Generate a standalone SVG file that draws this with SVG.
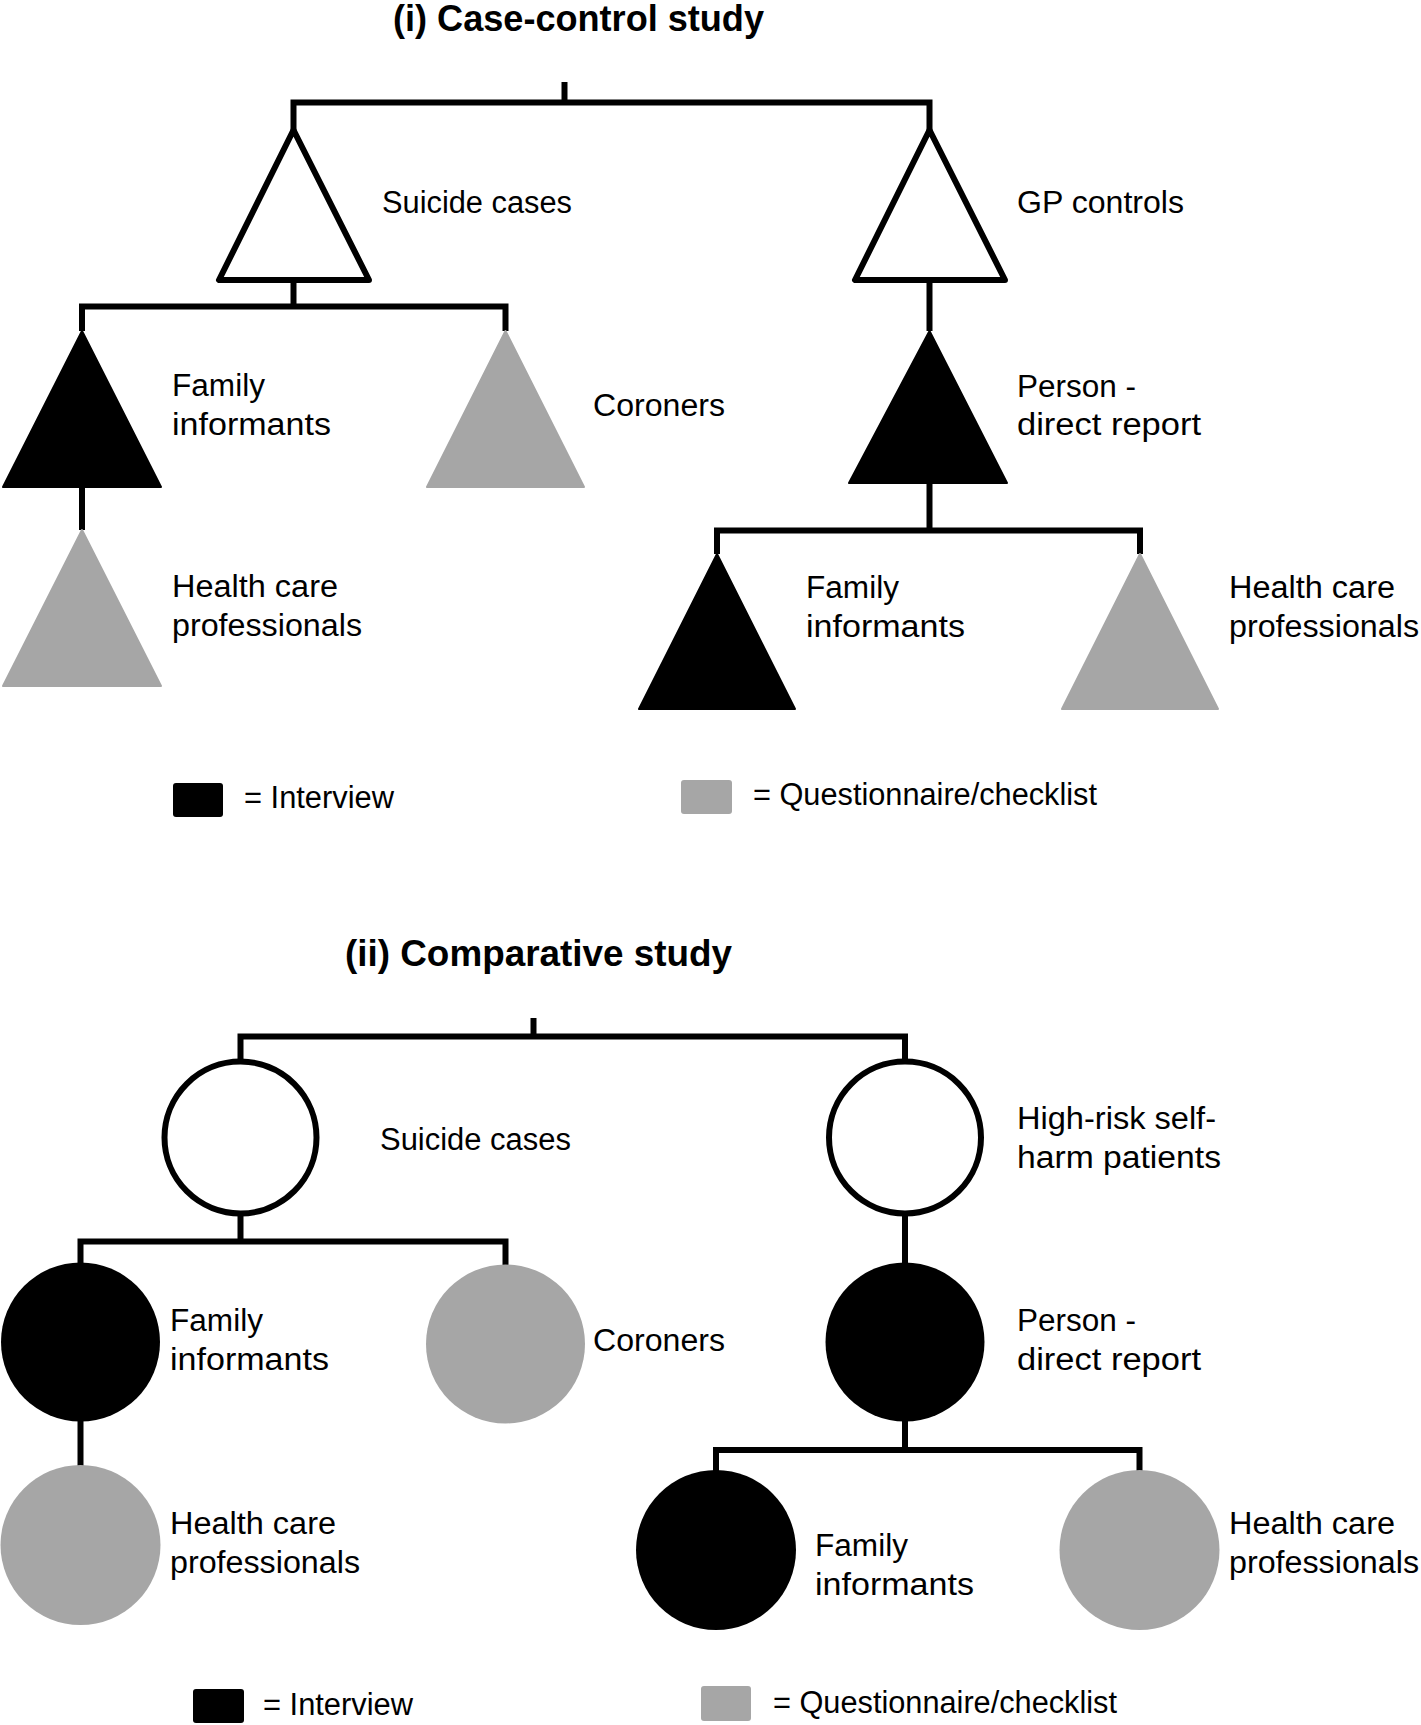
<svg xmlns="http://www.w3.org/2000/svg" width="1421" height="1725" viewBox="0 0 1421 1725">
<style>
  .lbl { font-family: "Liberation Sans", Arial, sans-serif; font-size: 31px; fill: #000; }
  .ttl { font-family: "Liberation Sans", Arial, sans-serif; font-size: 36px; font-weight: bold; fill: #000; }
  .conn { fill: none; stroke: #000; stroke-width: 6; stroke-linejoin: miter; stroke-linecap: butt; }
  .open { fill: #fff; stroke: #000; stroke-width: 6; stroke-linejoin: round; }
  .black { fill: #000; stroke: #000; stroke-width: 2; stroke-linejoin: round; }
  .grey { fill: #a6a6a6; stroke: #a6a6a6; stroke-width: 2; stroke-linejoin: round; }
</style>
<rect width="1421" height="1725" fill="#fff"/>

<!-- ===== (i) Case-control study ===== -->
<text class="ttl" x="393" y="31" textLength="371" lengthAdjust="spacingAndGlyphs">(i) Case-control study</text>

<g id="connectors-i">
  <path class="conn" d="M564.5 82 V102.5"/>
  <path class="conn" d="M293.5 131 V102.5 H929.5 V131"/>
  <path class="conn" d="M293.5 280 V306.5"/>
  <path class="conn" d="M82 331 V306.5 H505.5 V331"/>
  <path class="conn" d="M82 488 V530"/>
  <path class="conn" d="M929.5 280 V331"/>
  <path class="conn" d="M929.5 484 V530.5"/>
  <path class="conn" d="M717 554 V530.5 H1140 V554"/>
</g>

<g id="i-suicide-cases">
  <polygon class="open" points="293.5,130 219,280 369,280"/>
  <text class="lbl" x="382" y="213" textLength="190" lengthAdjust="spacingAndGlyphs">Suicide cases</text>
</g>
<g id="i-gp-controls">
  <polygon class="open" points="929.5,130 855,280 1005,280"/>
  <text class="lbl" x="1017" y="213" textLength="167" lengthAdjust="spacingAndGlyphs">GP controls</text>
</g>
<g id="i-family-informants-left">
  <polygon class="black" points="82,331 3,487 161,487"/>
  <text class="lbl" x="172" y="396" textLength="93" lengthAdjust="spacingAndGlyphs">Family</text>
  <text class="lbl" x="172" y="435" textLength="159" lengthAdjust="spacingAndGlyphs">informants</text>
</g>
<g id="i-coroners">
  <polygon class="grey" points="505.5,331 427,487 584,487"/>
  <text class="lbl" x="593" y="416" textLength="132" lengthAdjust="spacingAndGlyphs">Coroners</text>
</g>
<g id="i-health-care-left">
  <polygon class="grey" points="82,530 3,686 161,686"/>
  <text class="lbl" x="172" y="597" textLength="166" lengthAdjust="spacingAndGlyphs">Health care</text>
  <text class="lbl" x="172" y="636" textLength="190" lengthAdjust="spacingAndGlyphs">professionals</text>
</g>
<g id="i-person-direct-report">
  <polygon class="black" points="929.5,331 849,483 1007,483"/>
  <text class="lbl" x="1017" y="397" textLength="119" lengthAdjust="spacingAndGlyphs">Person -</text>
  <text class="lbl" x="1017" y="435" textLength="184" lengthAdjust="spacingAndGlyphs">direct report</text>
</g>
<g id="i-family-informants-right">
  <polygon class="black" points="717,554 639,709 795,709"/>
  <text class="lbl" x="806" y="598" textLength="93" lengthAdjust="spacingAndGlyphs">Family</text>
  <text class="lbl" x="806" y="637" textLength="159" lengthAdjust="spacingAndGlyphs">informants</text>
</g>
<g id="i-health-care-right">
  <polygon class="grey" points="1140,554 1062,709 1218,709"/>
  <text class="lbl" x="1229" y="598" textLength="166" lengthAdjust="spacingAndGlyphs">Health care</text>
  <text class="lbl" x="1229" y="637" textLength="190" lengthAdjust="spacingAndGlyphs">professionals</text>
</g>

<g id="i-legend">
  <rect x="173" y="783" width="50" height="34" rx="3" fill="#000"/>
  <text class="lbl" x="244" y="808" textLength="150" lengthAdjust="spacingAndGlyphs">= Interview</text>
  <rect x="681" y="780" width="51" height="34" rx="3" fill="#a6a6a6"/>
  <text class="lbl" x="753" y="805" textLength="344" lengthAdjust="spacingAndGlyphs">= Questionnaire/checklist</text>
</g>

<!-- ===== (ii) Comparative study ===== -->
<text class="ttl" x="345" y="966" textLength="387" lengthAdjust="spacingAndGlyphs">(ii) Comparative study</text>

<g id="connectors-ii">
  <path class="conn" d="M533.5 1018 V1036.5"/>
  <path class="conn" d="M240.5 1061 V1036.5 H905 V1061"/>
  <path class="conn" d="M240.5 1214 V1241.5"/>
  <path class="conn" d="M80.5 1264 V1241.5 H505.5 V1266"/>
  <path class="conn" d="M80.5 1420 V1466"/>
  <path class="conn" d="M905 1214 V1264"/>
  <path class="conn" d="M905 1420 V1450"/>
  <path class="conn" d="M716 1471 V1450 H1139.5 V1471"/>
</g>

<g id="ii-suicide-cases">
  <circle class="open" cx="240.5" cy="1137.5" r="76"/>
  <text class="lbl" x="380" y="1150" textLength="191" lengthAdjust="spacingAndGlyphs">Suicide cases</text>
</g>
<g id="ii-high-risk">
  <circle class="open" cx="905" cy="1137.5" r="76"/>
  <text class="lbl" x="1017" y="1129" textLength="199" lengthAdjust="spacingAndGlyphs">High-risk self-</text>
  <text class="lbl" x="1017" y="1168" textLength="204" lengthAdjust="spacingAndGlyphs">harm patients</text>
</g>
<g id="ii-family-informants-left">
  <circle cx="80.5" cy="1342" r="79.5" fill="#000"/>
  <text class="lbl" x="170" y="1331" textLength="93" lengthAdjust="spacingAndGlyphs">Family</text>
  <text class="lbl" x="170" y="1370" textLength="159" lengthAdjust="spacingAndGlyphs">informants</text>
</g>
<g id="ii-coroners">
  <circle cx="505.5" cy="1344" r="79.5" fill="#a6a6a6"/>
  <text class="lbl" x="593" y="1351" textLength="132" lengthAdjust="spacingAndGlyphs">Coroners</text>
</g>
<g id="ii-health-care-left">
  <circle cx="80.5" cy="1545" r="80" fill="#a6a6a6"/>
  <text class="lbl" x="170" y="1534" textLength="166" lengthAdjust="spacingAndGlyphs">Health care</text>
  <text class="lbl" x="170" y="1573" textLength="190" lengthAdjust="spacingAndGlyphs">professionals</text>
</g>
<g id="ii-person-direct-report">
  <circle cx="905" cy="1342" r="79.5" fill="#000"/>
  <text class="lbl" x="1017" y="1331" textLength="119" lengthAdjust="spacingAndGlyphs">Person -</text>
  <text class="lbl" x="1017" y="1370" textLength="184" lengthAdjust="spacingAndGlyphs">direct report</text>
</g>
<g id="ii-family-informants-right">
  <circle cx="716" cy="1550" r="80" fill="#000"/>
  <text class="lbl" x="815" y="1556" textLength="93" lengthAdjust="spacingAndGlyphs">Family</text>
  <text class="lbl" x="815" y="1595" textLength="159" lengthAdjust="spacingAndGlyphs">informants</text>
</g>
<g id="ii-health-care-right">
  <circle cx="1139.5" cy="1550" r="80" fill="#a6a6a6"/>
  <text class="lbl" x="1229" y="1534" textLength="166" lengthAdjust="spacingAndGlyphs">Health care</text>
  <text class="lbl" x="1229" y="1573" textLength="190" lengthAdjust="spacingAndGlyphs">professionals</text>
</g>

<g id="ii-legend">
  <rect x="193" y="1689" width="51" height="34" rx="3" fill="#000"/>
  <text class="lbl" x="263" y="1715" textLength="150" lengthAdjust="spacingAndGlyphs">= Interview</text>
  <rect x="701" y="1686" width="50" height="35" rx="3" fill="#a6a6a6"/>
  <text class="lbl" x="773" y="1713" textLength="344" lengthAdjust="spacingAndGlyphs">= Questionnaire/checklist</text>
</g>
</svg>
